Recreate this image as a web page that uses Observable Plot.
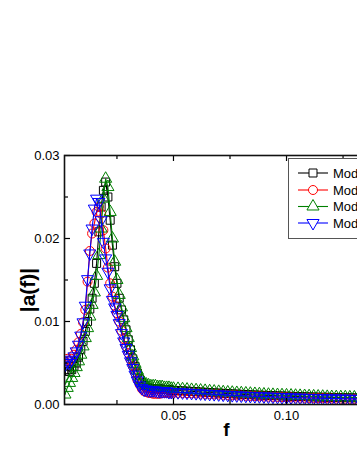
<!DOCTYPE html>
<html>
<head>
<meta charset="utf-8">
<script src="https://cdn.jsdelivr.net/npm/d3@7"></script>
<script src="https://cdn.jsdelivr.net/npm/@observablehq/plot@0.6"></script>
<style>
  html, body { margin: 0; padding: 0; background: #fff; overflow: hidden; }
  #wrap { position: relative; width: 357px; height: 462px; overflow: hidden; font-family: "Liberation Sans", Arial, sans-serif; }
  #chart svg { max-width: none !important; width: 400px; height: 462px; display: block; }
  #legend { position: absolute; left: 288px; top: 158px; }
</style>
</head>
<body>
<div id="wrap"><div id="chart"></div><div id="legend"></div></div>
<script>
// frequency grid
const fLow = [0.002,0.003,0.004,0.005,0.006,0.007,0.008,0.009,0.010,0.011,0.012,0.013,0.014,0.015,0.016,0.017,0.018,0.019,0.020,0.021,0.022,0.023,0.024,0.025,0.026,0.027,0.028,0.029,0.030,0.031,0.032,0.033,0.034,0.035,0.036,0.037,0.038,0.039,0.040,0.041,0.042,0.043,0.044,0.045,0.046,0.047,0.048,0.049,0.050];
const fHigh = [0.052,0.054,0.056,0.058,0.060,0.062,0.064,0.066,0.068,0.070,0.072,0.074,0.076,0.078,0.080,0.082,0.084,0.086,0.088,0.090,0.092,0.094,0.096,0.098,0.100,0.102,0.104,0.106,0.108,0.110,0.112,0.114,0.116,0.118,0.120,0.122,0.124,0.126,0.128,0.130,0.132,0.134,0.136,0.138,0.140,0.142,0.144,0.146,0.148,0.150];

const seriesNames = ["Model 1", "Model 2", "Model 3", "Model 4"];

const blackVals = [.0040,.0042,.0040,.0042,.0046,.0050,.0057,.0066,.0076,.0088,.0100,.0115,.0128,.0146,.0170,.0208,.0238,.0258,.0268,.0250,.0222,.0192,.0166,.0146,.0128,.0114,.0102,.0090,.0078,.0066,.0055,.0046,.0038,.0031,.0026,.0023,.0021,.0020,.0019,.0019,.0019,.0019,.0019,.0018,.0018,.0018,.0018,.0017,.0017,
  .00168,.00165,.00162,.00158,.00155,.00151,.00148,.00144,.00141,.00138,
  .00135,.00132,.00129,.00126,.00123,.00120,.00118,.00115,.00113,.00111,
  .00109,.00107,.00105,.00103,.00101,.00099,.00097,.00096,.00094,.00092,
  .00091,.00089,.00088,.00087,.00085,.00084,.00083,.00082,.00081,.00080,
  .00079,.00078,.00077,.00076,.00075,.00074,.00073,.00072,.00072,.00071];

const redVals = [.0052,.0055,.0053,.0055,.0060,.0066,.0075,.0085,.0099,.0114,.0148,.0185,.0206,.0218,.0232,.0238,.0230,.0210,.0188,.0165,.0146,.0130,.0119,.0110,.0100,.0089,.0079,.0070,.0062,.0054,.0046,.0038,.0030,.0024,.0019,.0016,.0015,.0014,.0014,.0013,.0013,.0013,.0013,.0014,.0014,.0014,.0014,.0014,.0014,
  .00140,.00139,.00137,.00135,.00133,.00130,.00128,.00125,.00122,.00120,
  .00117,.00114,.00112,.00109,.00107,.00104,.00102,.00100,.00098,.00096,
  .00094,.00092,.00090,.00088,.00086,.00085,.00083,.00082,.00080,.00079,
  .00077,.00076,.00075,.00074,.00072,.00071,.00070,.00069,.00068,.00067,
  .00066,.00065,.00064,.00064,.00063,.00062,.00061,.00061,.00060,.00059];

const greenVals = [.0012,.0020,.0026,.0032,.0038,.0045,.0052,.0060,.0070,.0080,.0092,.0106,.0120,.0135,.0155,.0180,.0212,.0248,.0272,.0262,.0232,.0200,.0172,.0150,.0132,.0117,.0104,.0092,.0080,.0068,.0058,.0049,.0041,.0034,.0029,.0026,.0024,.0023,.0022,.0022,.0022,.0021,.0021,.0021,.0020,.0020,.0020,.0019,.0019,
  .00188,.00184,.00180,.00176,.00172,.00168,.00164,.00160,.00156,.00152,
  .00148,.00145,.00142,.00139,.00136,.00133,.00130,.00127,.00124,.00121,
  .00118,.00116,.00114,.00112,.00110,.00108,.00106,.00104,.00102,.00100,
  .00098,.00096,.00094,.00092,.00090,.00089,.00088,.00087,.00086,.00085,
  .00084,.00083,.00082,.00081,.00080,.00079,.00078,.00077,.00076,.00075];

const blueVals = [.0048,.0052,.0050,.0054,.0058,.0064,.0072,.0083,.0099,.0119,.0151,.0182,.0212,.0236,.0248,.0244,.0222,.0196,.0176,.0160,.0140,.0126,.0117,.0108,.0098,.0086,.0076,.0068,.0060,.0052,.0044,.0036,.0029,.0023,.0020,.0018,.0018,.0017,.0017,.0017,.0017,.0016,.0016,.0016,.0016,.0016,.0015,.0015,.0015,
  .00148,.00146,.00143,.00140,.00137,.00134,.00131,.00128,.00125,.00122,
  .00119,.00116,.00113,.00110,.00108,.00105,.00103,.00101,.00099,.00097,
  .00095,.00093,.00091,.00089,.00087,.00085,.00084,.00082,.00081,.00079,
  .00078,.00077,.00075,.00074,.00073,.00072,.00071,.00070,.00069,.00068,
  .00067,.00066,.00065,.00064,.00063,.00062,.00062,.00061,.00060,.00060];

const colors = ["#000000", "#ff0000", "#008000", "#0000ff"];

const xMajor = [0.05, 0.10];
const xMinor = [0.025, 0.075, 0.125];
const yMajor = [0, 0.01, 0.02, 0.03];
const yMinor = [0.005, 0.015, 0.025];

const freqs = fLow.concat(fHigh);

const sqrt3 = Math.sqrt(3);
const triangleDown = {
  draw(context, size) {
    const y = -Math.sqrt(size / (sqrt3 * 3));
    context.moveTo(0, -y * 2);
    context.lineTo(-sqrt3 * y, y);
    context.lineTo(sqrt3 * y, y);
    context.closePath();
  }
};
const symbols = ["square", "circle", "triangle", triangleDown];
const allVals = [blackVals, redVals, greenVals, blueVals];

const W = 400, H = 462, mL = 64, mR = 12, mT = 155, mB = 58;
const frameH = H - mT - mB, frameW = W - mL - mR;

const marks = [];
allVals.forEach((vals, i) => {
  const data = freqs.map((f, j) => ({f, v: vals[j]}));
  marks.push(Plot.line(data, {x: "f", y: "v", stroke: colors[i], strokeWidth: 1.1, clip: true}));
  marks.push(Plot.dot(data, {x: "f", y: "v", stroke: colors[i], fill: "none", symbol: symbols[i], r: 4.5, strokeWidth: 1, clip: true}));
});

const tickLenMaj = 6, tickLenMin = 4;
marks.push(
  Plot.tickX(xMajor, {x: d => d, insetTop: frameH - tickLenMaj, stroke: "black", strokeWidth: 1.2}),
  Plot.tickX(xMinor, {x: d => d, insetTop: frameH - tickLenMin, stroke: "black", strokeWidth: 1.2}),
  Plot.tickX(xMajor, {x: d => d, insetBottom: frameH - tickLenMaj, stroke: "black", strokeWidth: 1.2}),
  Plot.tickX(xMinor, {x: d => d, insetBottom: frameH - tickLenMin, stroke: "black", strokeWidth: 1.2}),
  Plot.tickY(yMajor, {y: d => d, insetRight: frameW - tickLenMaj, stroke: "black", strokeWidth: 1.2}),
  Plot.tickY(yMinor, {y: d => d, insetRight: frameW - tickLenMin, stroke: "black", strokeWidth: 1.2}),
  Plot.tickY(yMajor, {y: d => d, insetLeft: frameW - tickLenMaj, stroke: "black", strokeWidth: 1.2}),
  Plot.tickY(yMinor, {y: d => d, insetLeft: frameW - tickLenMin, stroke: "black", strokeWidth: 1.2}),
  Plot.frame({stroke: "#111", strokeWidth: 1.6}),
  Plot.axisX(xMajor, {tickSize: 0, tickPadding: 6, tickFormat: d3.format(".2f"), fontSize: 13, label: null}),
  Plot.axisY(yMajor, {tickSize: 0, tickPadding: 5, tickFormat: d3.format(".2f"), fontSize: 13, label: null}),
  Plot.text(["|a(f)|"], {frameAnchor: "left", textAnchor: "middle", lineAnchor: "middle", dx: -36, dy: 10, rotate: -90, fontSize: 21, fontWeight: "bold", fill: "black"}),
  Plot.text(["f"], {frameAnchor: "bottom", textAnchor: "middle", lineAnchor: "middle", dy: 25, fontSize: 19, fontWeight: "bold", fill: "black"})
);

const chart = Plot.plot({
  width: W, height: H,
  marginLeft: mL, marginRight: mR, marginTop: mT, marginBottom: mB,
  style: {fontFamily: "'Liberation Sans', Arial, sans-serif", fontSize: "13px", color: "black", background: "white", overflow: "visible", maxWidth: "none"},
  x: {domain: [0.0018, 0.1451], axis: null},
  y: {domain: [0, 0.03], axis: null},
  marks
});
document.getElementById("chart").appendChild(chart);

// legend
const lg = d3.select("#legend").append("svg").attr("width", 100).attr("height", 82);
lg.append("rect").attr("x", 0.5).attr("y", 0.5).attr("width", 96).attr("height", 80)
  .attr("fill", "white").attr("stroke", "#555").attr("stroke-width", 1);
const rowY = [15, 32, 48.5, 65];
seriesNames.forEach((name, i) => {
  const g = lg.append("g").attr("transform", `translate(0,${rowY[i]})`);
  g.append("line").attr("x1", 10).attr("x2", 40).attr("y1", 0).attr("y2", 0)
    .attr("stroke", colors[i]).attr("stroke-width", 1.1);
  const sym = typeof symbols[i] === "string"
    ? {square: d3.symbolSquare, circle: d3.symbolCircle, triangle: d3.symbolTriangle}[symbols[i]]
    : symbols[i];
  g.append("path").attr("transform", "translate(25,0)")
    .attr("d", d3.symbol(sym, 4.5 * 4.5 * Math.PI)())
    .attr("fill", "white").attr("stroke", colors[i]).attr("stroke-width", 1);
  g.append("text").attr("x", 45).attr("y", 0).attr("dy", "0.35em")
    .attr("font-family", "'Liberation Sans', Arial, sans-serif").attr("font-size", 13)
    .attr("fill", "black").text(name);
});
</script>
</body>
</html>
